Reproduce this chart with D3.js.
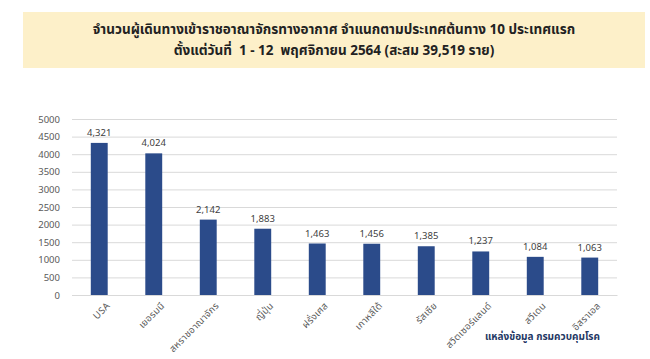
<!DOCTYPE html>
<html>
<head>
<meta charset="utf-8">
<script src="https://cdn.jsdelivr.net/npm/d3@7"></script>
<style>
  html, body { margin: 0; padding: 0; background: #ffffff; }
  svg { display: block; font-family: "Noto Sans Thai", "Leelawadee UI", Tahoma, "Noto Sans", sans-serif; }
  .title { white-space: pre; }
</style>
</head>
<body>
<svg id="chart" width="650" height="359"></svg>
<script>
// Arrivals by air, top 10 origin countries
const countries = ["USA", "เยอรมนี", "สหราชอาณาจักร", "ญี่ปุ่น", "ฝรั่งเศส", "เกาหลีใต้", "รัสเซีย", "สวิตเซอร์แลนด์", "สวีเดน", "อิสราเอล"];
const travellers = [4321, 4024, 2142, 1883, 1463, 1456, 1385, 1237, 1084, 1063];
const yTicks = [0, 500, 1000, 1500, 2000, 2500, 3000, 3500, 4000, 4500, 5000];
const titleLines = [
  "จำนวนผู้เดินทางเข้าราชอาณาจักรทางอากาศ จำแนกตามประเทศต้นทาง 10 ประเทศแรก",
  "ตั้งแต่วันที่  1 - 12  พฤศจิกายน 2564 (สะสม 39,519 ราย)"
];
const sourceNote = "แหล่งข้อมูล กรมควบคุมโรค";

const svg = d3.select("#chart");
const plot = { left: 72, right: 617, top: 119, bottom: 295 };

// Title banner
svg.append("rect")
  .attr("x", 23).attr("y", 12).attr("width", 622).attr("height", 56)
  .attr("fill", "#fdf0c9");
svg.append("g").selectAll("text").data(titleLines).join("text")
  .attr("class", "title")
  .attr("x", 334).attr("y", (d, i) => 34 + i * 21)
  .attr("text-anchor", "middle")
  .attr("font-size", 13.5).attr("font-weight", "bold")
  .attr("fill", "#222222")
  .text(d => d);

const x = d3.scaleBand().domain(countries).range([plot.left, plot.right]).paddingInner(0.69).paddingOuter(0.345);
const y = d3.scaleLinear().domain([0, 5000]).range([plot.bottom, plot.top]);

// Gridlines + y labels
const yAxis = d3.axisLeft(y).tickValues(yTicks).tickSize(-(plot.right - plot.left)).tickPadding(12).tickFormat(d3.format("d"));
const gy = svg.append("g").attr("transform", `translate(${plot.left},0)`).call(yAxis);
gy.select(".domain").remove();
gy.selectAll(".tick line").attr("stroke", "#d9d9d9").attr("stroke-width", 1);
gy.selectAll(".tick text").attr("fill", "#595959").attr("font-size", 9.5).attr("font-family", "'Noto Sans', sans-serif");

// Bars
svg.append("g").selectAll("rect").data(countries).join("rect")
  .attr("x", d => x(d))
  .attr("y", (d, i) => y(travellers[i]))
  .attr("width", x.bandwidth())
  .attr("height", (d, i) => y(0) - y(travellers[i]))
  .attr("fill", "#2b4b8a");

// Value labels
svg.append("g").selectAll("text").data(countries).join("text")
  .attr("x", d => x(d) + x.bandwidth() / 2)
  .attr("y", (d, i) => y(travellers[i]) - 7)
  .attr("text-anchor", "middle")
  .attr("font-size", 9.5).attr("fill", "#404040")
  .attr("font-family", "'Noto Sans', sans-serif")
  .text((d, i) => d3.format(",")(travellers[i]));

// Category axis, rotated labels
const gx = svg.append("g").attr("transform", `translate(0,${plot.bottom})`).call(d3.axisBottom(x).tickSize(0).tickPadding(0));
gx.select(".domain").attr("stroke", "#d9d9d9");
gx.selectAll(".tick text")
  .attr("x", 0).attr("y", 0).attr("dy", "0.35em")
  .attr("text-anchor", "end")
  .attr("font-size", 9.5).attr("fill", "#595959")
  .attr("letter-spacing", 0.3)
  .attr("font-family", "'Noto Sans Thai', Tahoma, 'Noto Sans', sans-serif")
  .attr("transform", "translate(9,9) rotate(-45)");

// Source note
svg.append("text")
  .attr("x", 600).attr("y", 340)
  .attr("text-anchor", "end")
  .attr("font-size", 10).attr("font-weight", "bold")
  .attr("fill", "#1f3864")
  .text(sourceNote);
</script>
</body>
</html>
